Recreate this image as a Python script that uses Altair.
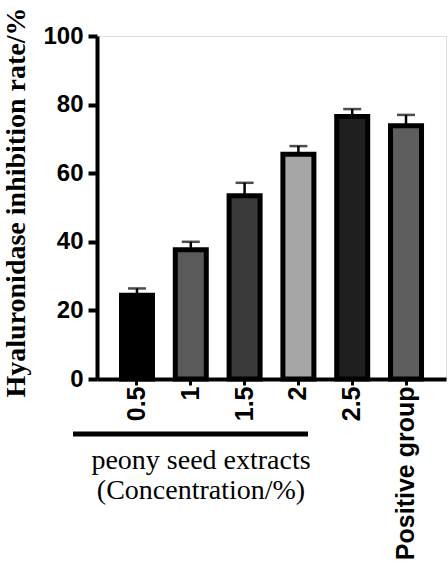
import altair as alt
import pandas as pd

groups = ["0.5", "1", "1.5", "2", "2.5", "Positive group"]
values = [24.4, 37.7, 53.4, 65.5, 76.5, 73.8]
errors = [2.0, 2.3, 3.8, 2.4, 2.2, 3.2]
colors = ["#000000", "#5a5a5a", "#3a3a3a", "#a6a6a6", "#1f1f1f", "#5e5e5e"]
note_lines = ["peony seed extracts", "(Concentration/%)"]

df = pd.DataFrame({"group": groups, "value": values, "err": errors, "color": colors})
df["top"] = df["value"] + df["err"]

W, H = 349, 343

x = alt.X("group:N", sort=groups,
          scale=alt.Scale(paddingInner=0.4, paddingOuter=0.443),
          axis=alt.Axis(title=None, labelAngle=270, labelFont="Liberation Sans",
                        labelFontWeight="bold", labelFontSize=25, labelColor="black",
                        labelPadding=1, tickSize=6, tickWidth=3, tickColor="black",
                        domainWidth=4, domainColor="black"))
y = alt.Y("value:Q", scale=alt.Scale(domain=[0, 100], nice=False),
          axis=alt.Axis(title="Hyaluronidase inhibition rate/%", values=[0, 20, 40, 60, 80, 100],
                        titleFont="Liberation Serif", titleFontWeight="bold", titleFontSize=28,
                        titleColor="black", titleAngle=270, titleX=-81, titleY=166,
                        titleAlign="center", titleBaseline="middle",
                        labelFont="Liberation Sans", labelFontWeight="bold", labelFontSize=24,
                        labelColor="black", labelPadding=5, tickSize=9, tickWidth=4,
                        tickColor="black", domainWidth=4, domainColor="black", grid=False))

base = alt.Chart(df)

err_line = base.mark_rule(color="black", strokeWidth=2.5).encode(
    x=alt.X("group:N", sort=groups), y="value:Q", y2="top:Q")
err_cap = base.mark_tick(color="black", thickness=2.5, size=18, orient="horizontal").encode(
    x=alt.X("group:N", sort=groups), y="top:Q")
bars = base.mark_bar(size=31, stroke="black", strokeWidth=5).encode(
    x=x, y=y, fill=alt.Fill("color:N", scale=None))

rule_df = pd.DataFrame({"k": [0]})
bracket = alt.Chart(rule_df).mark_rule(color="black", strokeWidth=5, clip=False).encode(
    x=alt.value(73 - 97), x2=alt.value(308 - 97), y=alt.value(434 - 36))

note_df = pd.DataFrame({"line": note_lines, "dy": [461 - 36, 491 - 36]})
note = alt.Chart(note_df).mark_text(font="Liberation Serif", fontSize=28, color="black",
                                    align="center", baseline="middle", clip=False).encode(
    x=alt.value(201 - 97), y=alt.Y("dy:Q", scale=None), text="line:N")

chart = alt.layer(err_line, err_cap, bars, bracket, note).properties(
    width=W, height=H,
    autosize=alt.AutoSizeParams(type="none"),
    padding={"left": 97, "top": 36, "right": 2, "bottom": 189},
).configure_view(stroke=None).configure(background="white")

chart.save("out.html", embed_options={"renderer": "svg", "actions": False})
